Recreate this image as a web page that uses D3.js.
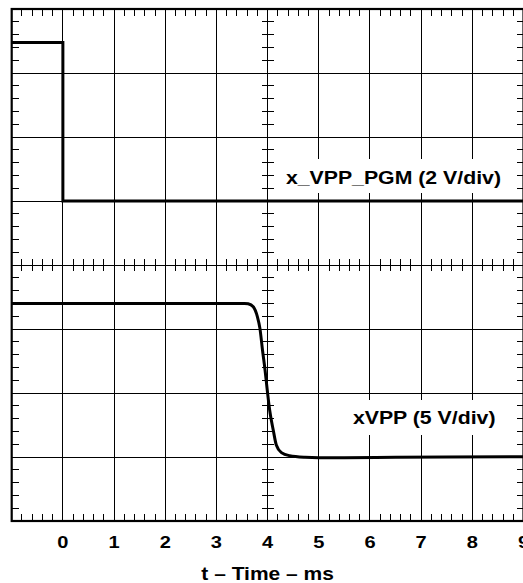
<!DOCTYPE html>
<html>
<head>
<meta charset="utf-8">
<script src="https://cdn.jsdelivr.net/npm/d3@7"></script>
<style>
  html, body { margin: 0; padding: 0; background: #fff; }
  text { font-family: "Liberation Sans", Arial, Helvetica, sans-serif; font-weight: bold; fill: #000; }
</style>
</head>
<body>
<svg id="chart" width="523" height="583"></svg>
<script>
// ---- data ----
const timeTicks = [0, 1, 2, 3, 4, 5, 6, 7, 8, 9];          // ms
const timeTickLabels = ["0", "1", "2", "3", "4", "5", "6", "7", "8", "9"];
const xAxisTitle = "t \u2013 Time \u2013 ms";

// x_VPP_PGM trace (2 V/div, ground at +1 div)
const pgmLabel = "x_VPP_PGM (2 V/div)";
const pgmVoltsPerDiv = 2, pgmGroundDiv = 1;
const pgmTime  = [-1, 0, 0, 9];
const pgmVolts = [4.95, 4.95, 0, 0];

// xVPP trace (5 V/div, ground at -3 div)
const vppLabel = "xVPP (5 V/div)";
const vppVoltsPerDiv = 5, vppGroundDiv = -3;
const vppTime  = [-1, 1, 3.0, 3.55, 3.62, 3.72, 3.80, 3.85, 3.90, 3.95, 4.00, 4.04, 4.11, 4.17, 4.27, 4.43, 4.73, 5.0, 5.5, 6.5, 7.5, 9];
const vppVolts = [12.0, 12.0, 12.0, 12.0, 11.97, 11.74, 10.96, 10.05, 8.36, 6.80, 4.98, 3.67, 2.11, 0.94, 0.34, 0.10, -0.02, -0.05, -0.05, -0.02, 0.0, 0.02];

// ---- layout ----
const svg = d3.select("#chart");
const L = 11.7, R = 523.5, T = 9, B = 521;
const x = d3.scaleLinear().domain([-1, 9]).range([L, R]);
const y = d3.scaleLinear().domain([-4, 4]).range([B, T]);

svg.append("rect").attr("width", 523).attr("height", 583).attr("fill", "#fff");

const grid = svg.append("g").attr("stroke", "#000").attr("stroke-width", 1).attr("shape-rendering", "crispEdges");
// vertical grid lines
grid.selectAll("line.v").data(d3.range(0, 9)).join("line")
  .attr("x1", d => x(d)).attr("x2", d => x(d)).attr("y1", T).attr("y2", B);
// horizontal grid lines
grid.selectAll("line.h").data(d3.range(-3, 4)).join("line")
  .attr("x1", L).attr("x2", R).attr("y1", d => y(d)).attr("y2", d => y(d));

// white label boxes over grid
svg.append("rect").attr("x", 280).attr("y", 159).attr("width", 230).attr("height", 34).attr("fill", "#fff");
svg.append("rect").attr("x", 345).attr("y", 400).attr("width", 160).attr("height", 35).attr("fill", "#fff");

// minor ticks
const minorX = d3.range(-1, 9.001, 0.2).map(v => +v.toFixed(2));
const minorY = d3.range(-4, 4.001, 0.2).map(v => +v.toFixed(2));
const ticks = svg.append("g").attr("stroke", "#000").attr("stroke-width", 1).attr("shape-rendering", "crispEdges");
// top border ticks (down)
ticks.selectAll("line.t").data(minorX).join("line")
  .attr("x1", d => x(d)).attr("x2", d => x(d)).attr("y1", T).attr("y2", T + 7);
// bottom border ticks (up)
svg.append("g").attr("stroke", "#000").attr("shape-rendering", "crispEdges")
  .selectAll("line").data(minorX).join("line")
  .attr("x1", d => x(d)).attr("x2", d => x(d)).attr("y1", B).attr("y2", B - 7);
// left border ticks (right)
svg.append("g").attr("stroke", "#000").attr("shape-rendering", "crispEdges")
  .selectAll("line").data(minorY).join("line")
  .attr("x1", L).attr("x2", L + 7).attr("y1", d => y(d)).attr("y2", d => y(d));
// right border ticks (left)
svg.append("g").attr("stroke", "#000").attr("shape-rendering", "crispEdges")
  .selectAll("line").data(minorY).join("line")
  .attr("x1", R).attr("x2", R - 7).attr("y1", d => y(d)).attr("y2", d => y(d));
// center horizontal axis
const cax = svg.append("g").attr("stroke", "#000").attr("shape-rendering", "crispEdges");
cax.append("line").attr("x1", L).attr("x2", R).attr("y1", y(0)).attr("y2", y(0));
cax.selectAll("line.ct").data(minorX).join("line")
  .attr("x1", d => x(d)).attr("x2", d => x(d)).attr("y1", y(0) - 6).attr("y2", y(0) + 6);
// center vertical axis
const cay = svg.append("g").attr("stroke", "#000").attr("shape-rendering", "crispEdges");
cay.append("line").attr("x1", x(4)).attr("x2", x(4)).attr("y1", T).attr("y2", B);
cay.selectAll("line.cv").data(minorY).join("line")
  .attr("x1", x(4) - 6).attr("x2", x(4) + 6).attr("y1", d => y(d)).attr("y2", d => y(d));

// border
svg.append("rect").attr("x", L).attr("y", T).attr("width", R - L).attr("height", B - T)
  .attr("fill", "none").attr("stroke", "#000").attr("stroke-width", 2.2);

// traces
const line = d3.line().x(d => x(d[0])).y(d => y(d[1]));
const pgmPts = pgmTime.map((t, i) => [t, pgmGroundDiv + pgmVolts[i] / pgmVoltsPerDiv]);
svg.append("path").attr("d", line(pgmPts)).attr("fill", "none").attr("stroke", "#000")
  .attr("stroke-width", 3).attr("stroke-linejoin", "miter");
const vppPts = vppTime.map((t, i) => [t, vppGroundDiv + vppVolts[i] / vppVoltsPerDiv]);
svg.append("path").attr("d", line.curve(d3.curveMonotoneX)(vppPts)).attr("fill", "none").attr("stroke", "#000")
  .attr("stroke-width", 3);

// trace labels
svg.append("text").attr("transform", "translate(501,183.5) scale(1.12,1)")
  .attr("text-anchor", "end").attr("font-size", 19).text(pgmLabel);
svg.append("text").attr("transform", "translate(495.5,423.5) scale(1.12,1)")
  .attr("text-anchor", "end").attr("font-size", 19).text(vppLabel);

// x tick labels
svg.append("g").selectAll("text").data(timeTicks).join("text")
  .attr("transform", d => `translate(${x(d)},547.5) scale(1.18,1)`)
  .attr("text-anchor", "middle").attr("font-size", 17)
  .text((d, i) => timeTickLabels[i]);

// axis title
svg.append("text").attr("transform", `translate(${x(4)},580) scale(1.166,1)`)
  .attr("text-anchor", "middle").attr("font-size", 18).text(xAxisTitle);
</script>
</body>
</html>
